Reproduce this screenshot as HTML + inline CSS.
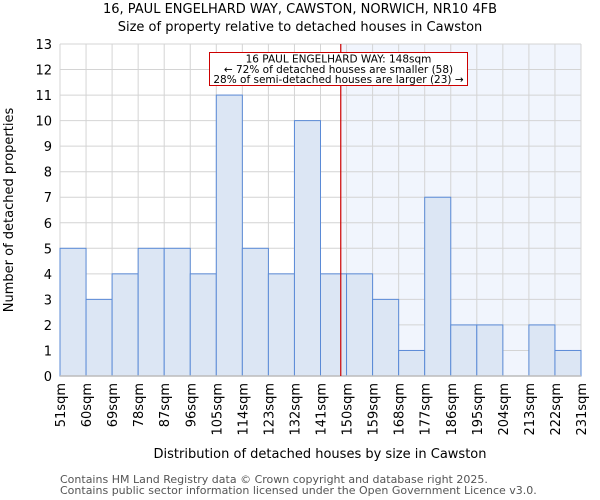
<!DOCTYPE html>
<html><head><meta charset="utf-8"><style>
html,body{margin:0;padding:0;background:#fff;}
svg{display:block;font-family:"DejaVu Sans","Liberation Sans",sans-serif;}
</style></head><body>
<svg id="chart" width="600" height="500" viewBox="0 0 600 500" xmlns="http://www.w3.org/2000/svg">
<text x="300" y="13" text-anchor="middle" font-size="13">16, PAUL ENGELHARD WAY, CAWSTON, NORWICH, NR10 4FB</text>
<text x="300" y="31" text-anchor="middle" font-size="13">Size of property relative to detached houses in Cawston</text>
<g id="plot"></g>
<text x="320" y="458" text-anchor="middle" font-size="13">Distribution of detached houses by size in Cawston</text>
<text transform="translate(13,210) rotate(-90)" text-anchor="middle" font-size="13">Number of detached properties</text>
<text x="60" y="483" font-size="11" fill="#555">Contains HM Land Registry data © Crown copyright and database right 2025.</text>
<text x="60" y="494" font-size="11" fill="#555">Contains public sector information licensed under the Open Government Licence v3.0.</text>
</svg>
<script>
const binStarts = [51,60,69,78,87,96,105,114,123,132,141,150,159,168,177,186,195,204,213,222,231];
const counts = [5,3,4,5,5,4,11,5,4,10,4,4,3,1,7,2,2,0,2,1];
const yTicks = [0,1,2,3,4,5,6,7,8,9,10,11,12,13];
const propertySize = 148;
const annotationLines = ["16 PAUL ENGELHARD WAY: 148sqm","\u2190 72% of detached houses are smaller (58)","28% of semi-detached houses are larger (23) \u2192"];

const NS="http://www.w3.org/2000/svg";
const L=60,R=581,T=44,B=376;
const xMin=binStarts[0], xMax=binStarts[binStarts.length-1];
const x=v=>L+(v-xMin)/(xMax-xMin)*(R-L);
const y=v=>B-v/13*(B-T);
const g=document.getElementById('plot');
function mk(tag,attrs){const e=document.createElementNS(NS,tag);for(const k in attrs)e.setAttribute(k,attrs[k]);g.appendChild(e);return e;}

let sh=mk('rect',{x:x(propertySize),y:T,width:R-x(propertySize),height:B-T,fill:'#f1f5fd'});


yTicks.forEach(t=>{
  let l=mk('line',{x1:L,x2:R,y1:y(t),y2:y(t),stroke:'#d4d4d4','stroke-width':1});
  
  
  let tx=mk('text',{x:L-8,y:y(t)+5,'text-anchor':'end','font-size':13});
  tx.textContent=t;
  
  
});
binStarts.forEach(b=>{
  let l=mk('line',{x1:x(b),x2:x(b),y1:T,y2:B,stroke:'#d4d4d4','stroke-width':1});
  
  
  let tx=mk('text',{transform:`translate(${x(b)+5},383) rotate(-90)`,'text-anchor':'end','font-size':13});
  tx.textContent=b+'sqm';
  
  
});
counts.forEach((c,i)=>{
  if(c<=0)return;
  const x0=x(binStarts[i]),x1=x(binStarts[i+1]);
  let r=mk('rect',{x:x0,y:y(c),width:x1-x0,height:B-y(c),fill:'#dce6f4',stroke:'#5a8ad6','stroke-width':1});
  
  
});
let ax=mk('line',{x1:L,x2:R,y1:B,y2:B,stroke:'#bbb','stroke-width':1.5});


let ml=mk('line',{x1:x(propertySize),x2:x(propertySize),y1:T,y2:B,stroke:'#cc0000','stroke-width':1.2});


let box=mk('rect',{x:209.5,y:52.5,width:258,height:33,fill:'#fff',stroke:'#cc0000','stroke-width':1});


annotationLines.forEach((s,i)=>{
  let t=mk('text',{x:338.5,y:62.5+i*10.3,'text-anchor':'middle','font-size':10.5});
  t.textContent=s;
  
  
});
</script>
</body></html>
